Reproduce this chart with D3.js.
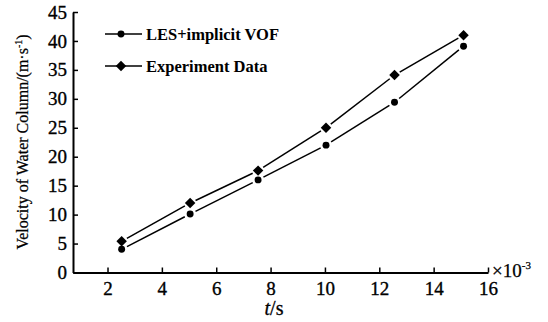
<!DOCTYPE html>
<html><head><meta charset="utf-8">
<script src="https://cdn.jsdelivr.net/npm/d3@7"></script>
<style>body{margin:0;background:#fff}svg{display:block;font-family:"Liberation Serif",serif}svg text{font-family:"Liberation Serif",serif}</style>
</head><body><svg id="c" width="548" height="322"></svg>
<script>
const tValues = [2.52, 5.04, 7.54, 10.04, 12.56, 15.1];
const lesValues = [4.0, 10.1, 16.0, 22.0, 29.4, 39.1];
const expValues = [5.4, 12.0, 17.6, 25.0, 34.1, 41.0];
const seriesNames = ["LES+implicit VOF", "Experiment Data"];
const xTicks = [2, 4, 6, 8, 10, 12, 14, 16];
const yTicks = [0, 5, 10, 15, 20, 25, 30, 35, 40, 45];

const svg = d3.select("#c");
const font = "Liberation Serif";
const x = d3.scaleLinear().domain([0.73, 16]).range([73, 488]);
const y = d3.scaleLinear().domain([0, 45]).range([272.5, 12]);

// axes
const xAxis = d3.axisBottom(x).tickValues(xTicks).tickSizeInner(-5).tickSizeOuter(0).tickPadding(9);
const gx = svg.append("g").attr("transform", `translate(0,${y(0)})`).call(xAxis);
const yAxis = d3.axisLeft(y).tickValues(yTicks).tickSizeInner(-5).tickSizeOuter(0).tickPadding(6);
const gy = svg.append("g").attr("transform", `translate(${x(0.73)},0)`).call(yAxis);
[gx, gy].forEach(g => {
  g.attr("font-family", font);
  g.select(".domain").attr("stroke", "#000").attr("stroke-width", 2);
  g.selectAll(".tick line").attr("stroke", "#000").attr("stroke-width", 1.5);
  g.selectAll(".tick text").attr("fill", "#000").attr("font-family", font).attr("font-size", 19)
    .attr("stroke", "#000").attr("stroke-width", 0.35);
});

// axis titles
svg.append("text").attr("x", 492).attr("y", 277).attr("font-family", font).attr("font-size", 19)
  .attr("stroke", "#000").attr("stroke-width", 0.25)
  .html('×10<tspan dy="-8" font-size="11">-3</tspan>');
svg.append("text").attr("x", 274).attr("y", 315).attr("text-anchor", "middle")
  .attr("font-family", font).attr("font-size", 20).attr("stroke", "#000").attr("stroke-width", 0.3)
  .html('<tspan font-style="italic">t</tspan>/s');
svg.append("text").attr("transform", "translate(28,142) rotate(-90)").attr("text-anchor", "middle")
  .attr("font-family", font).attr("font-size", 16).attr("stroke", "#000").attr("stroke-width", 0.25)
  .html('Velocity of Water Column/(m·s<tspan dy="-6" font-size="10">-1</tspan><tspan dy="6">)</tspan>');

// lines with gaps near markers
function gappedSegments(vals, gap) {
  const pts = tValues.map((t, i) => [x(t), y(vals[i])]);
  const segs = [];
  for (let i = 0; i < pts.length - 1; i++) {
    const [x1, y1] = pts[i], [x2, y2] = pts[i + 1];
    const d = Math.hypot(x2 - x1, y2 - y1), ux = (x2 - x1) / d, uy = (y2 - y1) / d;
    segs.push([x1 + ux * gap, y1 + uy * gap, x2 - ux * gap, y2 - uy * gap]);
  }
  return segs;
}
const series = [
  {name: seriesNames[0], vals: lesValues, sym: d3.symbolCircle, size: 38},
  {name: seriesNames[1], vals: expValues, sym: d3.symbolDiamond2, size: 70}
];
series.forEach((s, k) => {
  const g = svg.append("g");
  g.selectAll("line").data(gappedSegments(s.vals, 6)).join("line")
    .attr("x1", d => d[0]).attr("y1", d => d[1]).attr("x2", d => d[2]).attr("y2", d => d[3])
    .attr("stroke", "#000").attr("stroke-width", 1.5);
  g.selectAll("path").data(s.vals).join("path")
    .attr("d", d3.symbol().type(s.sym).size(s.size))
    .attr("transform", (d, i) => `translate(${x(tValues[i])},${y(d)})`)
    .attr("fill", "#000");
  // legend
  const ly = k === 0 ? 34 : 66;
  const lg = svg.append("g");
  lg.append("line").attr("x1", 105).attr("x2", 142).attr("y1", ly).attr("y2", ly).attr("stroke", "#000").attr("stroke-width", 1.3);
  lg.append("path").attr("d", d3.symbol().type(s.sym).size(s.size)).attr("transform", `translate(121,${ly})`).attr("fill", "#000");
  lg.append("text").attr("x", 146).attr("y", ly + 5.5).attr("font-family", font).attr("font-size", 16.5)
    .attr("font-weight", "bold").text(s.name);
});
</script></body></html>
